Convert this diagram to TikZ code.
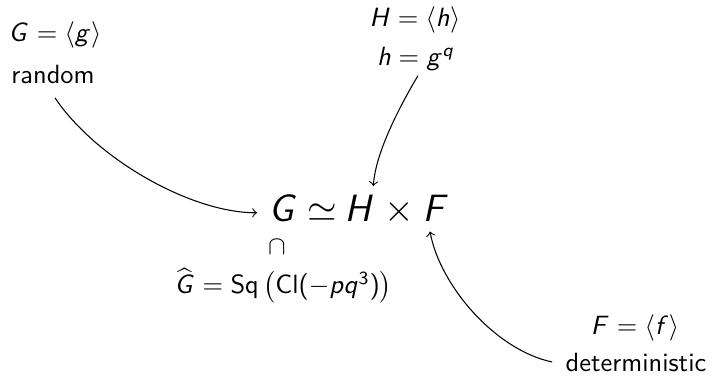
\RequirePackage{fix-cm}
\documentclass[tikz,border=0pt]{standalone}
\usetikzlibrary{calc}
\DeclareSymbolFont{sfletters}{OT1}{cmss}{m}{sl}
\DeclareSymbolFont{sfops}{OT1}{cmss}{m}{n}
\DeclareMathSymbol{G}{\mathalpha}{sfletters}{`G}
\DeclareMathSymbol{g}{\mathalpha}{sfletters}{`g}
\DeclareMathSymbol{H}{\mathalpha}{sfletters}{`H}
\DeclareMathSymbol{h}{\mathalpha}{sfletters}{`h}
\DeclareMathSymbol{F}{\mathalpha}{sfletters}{`F}
\DeclareMathSymbol{f}{\mathalpha}{sfletters}{`f}
\DeclareMathSymbol{p}{\mathalpha}{sfletters}{`p}
\DeclareMathSymbol{q}{\mathalpha}{sfletters}{`q}
\DeclareMathSymbol{3}{\mathord}{sfops}{`3}
\DeclareMathSymbol{(}{\mathopen}{sfops}{`(}
\DeclareMathSymbol{)}{\mathclose}{sfops}{`)}
\begin{document}
\begin{tikzpicture}[x=0.01331cm,y=-0.01331cm,
  lbl/.style={inner sep=0pt, font=\fontsize{10}{12}\selectfont\sffamily, anchor=base},
  big/.style={inner sep=0pt, font=\fontsize{14.4}{17}\selectfont, anchor=base west},
  link/.style={->, line width=0.4pt}]
\useasboundingbox (0,0) rectangle (714,376);
\node[lbl] (gdef) at (55,42) {$G=\langle g\rangle$};
\node[lbl] (random) at (53,84) {random};
\node[lbl] (hdef) at (415,27) {$H=\langle h\rangle$};
\node[lbl] (hg) at (416,66) {$h=g^q$};
\node[big] (G) at (268,221) {$G$};
\node[big] (sim) at (307,221) {$\simeq$};
\node[big] (H) at (344,221) {$H$};
\node[big] (times) at (384,221) {$\times$};
\node[big] (F) at (422,221) {$F$};
\node[lbl] (cap) at (277,254) {$\cap$};
\node[lbl, anchor=base west] (ghat) at (174,294) {$\widehat{G}=\textsf{Sq}\left(\textsf{Cl}(-pq^3)\right)$};
\node[lbl] (fdef) at (635,334) {$F=\langle f\rangle$};
\node[lbl] (det) at (636,371) {deterministic};
\coordinate (a1s) at ($(random.south)+(2,13)$);
\coordinate (a1e) at ($(G.west)+(-11,5)$);
\draw[link] (a1s) .. controls ($(a1s)+(40,60)$) and ($(a1e)+(-67,0)$) .. (a1e);
\coordinate (a2s) at ($(hg.south)+(2,4)$);
\coordinate (a2e) at ($(H.north east)+(-1,-8)$);
\draw[link] (a2s) .. controls ($(a2s)+(-15,25)$) and ($(a2e)+(2,-35)$) .. (a2e);
\coordinate (a3s) at ($(det.west)+(-13,0)$);
\coordinate (a3e) at ($(F.south west)+(8,10)$);
\draw[link] (a3s) .. controls ($(a3s)+(-57,-12)$) and ($(a3e)+(10,54)$) .. (a3e);
\end{tikzpicture}
\end{document}
